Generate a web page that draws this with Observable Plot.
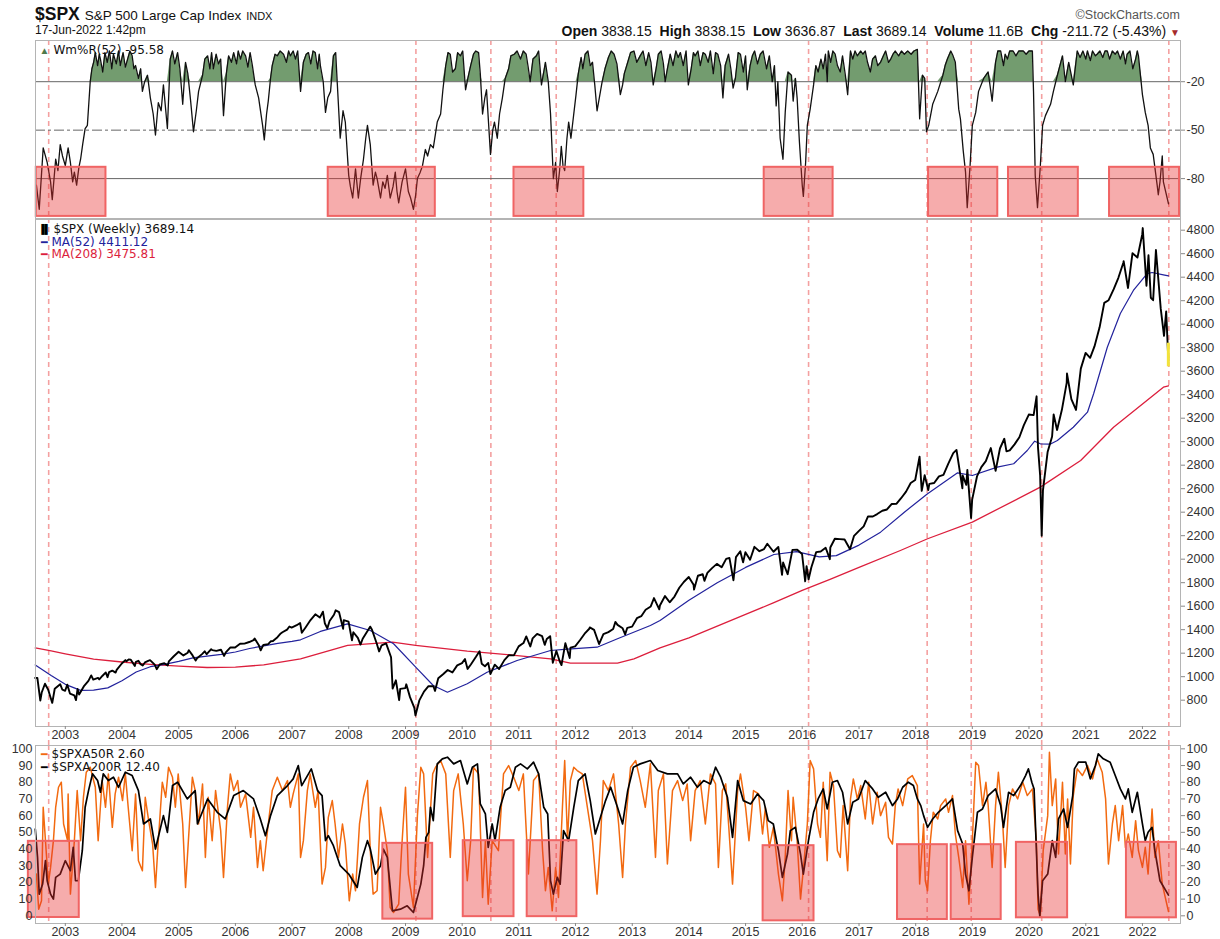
<!DOCTYPE html>
<html><head><meta charset="utf-8">
<script src="https://cdn.jsdelivr.net/npm/d3@7"></script>
<script src="https://cdn.jsdelivr.net/npm/@observablehq/plot@0.6"></script>
<style>
html,body{margin:0;padding:0;background:#fff}
body{width:1220px;height:939px;position:relative;overflow:hidden;font-family:"Liberation Sans",Arial,sans-serif;color:#111}
.abs{position:absolute;white-space:nowrap}
.panel{position:absolute;left:0}
.panel svg{overflow:visible}
</style></head><body>
<div class="abs" style="left:35px;top:4px;font-weight:bold;font-size:17.5px">$SPX <span style="font-weight:normal;font-size:13.5px">S&amp;P 500 Large Cap Index</span> <span style="font-weight:normal;font-size:11px">INDX</span></div>
<div class="abs" style="left:35px;top:23px;font-size:12px">17-Jun-2022 1:42pm</div>
<div class="abs" style="right:40px;top:8px;font-size:12.5px;color:#555">&#169;StockCharts.com</div>
<div class="abs" style="right:40px;top:23px;font-size:14px"><b>Open</b> 3838.15 &nbsp;<b>High</b> 3838.15 &nbsp;<b>Low</b> 3636.87 &nbsp;<b>Last</b> 3689.14 &nbsp;<b>Volume</b> 11.6B &nbsp;<b>Chg</b> -211.72 (-5.43%) <span style="color:#a52a2a;font-size:10px">&#9660;</span></div>
<div id="p1" class="panel" style="top:40px"></div>
<div id="p2" class="panel" style="top:218px"></div>
<div id="p3" class="panel" style="top:745px"></div>
<script>
// ---------- data ----------
const xStartYear = 2002.474, xEndYear = 2022.672;
const yearTicks = [2003,2004,2005,2006,2007,2008,2009,2010,2011,2012,2013,2014,2015,2016,2017,2018,2019,2020,2021,2022];
const markerDates = ["2002-09-16","2009-03-09","2010-07-05","2011-08-30","2016-02-11","2018-03-16","2018-12-25","2020-03-23","2022-06-20"];

// Williams %R (52), [decimal year, value]
const wmr1 = [[2002.49,-84],[2002.54,-99],[2002.61,-61],[2002.68,-70],[2002.74,-82],[2002.77,-93],[2002.83,-68],[2002.87,-75],[2002.91,-59],[2002.95,-66],[2003.00,-72],[2003.05,-61],[2003.09,-70],[2003.13,-82],[2003.16,-76],[2003.20,-84],[2003.24,-73],[2003.27,-68],[2003.31,-58],[2003.35,-49],[2003.39,-47],[2003.44,-20],[2003.47,-12],[2003.50,-8],[2003.53,-2],[2003.57,-10],[2003.60,-3],[2003.62,-6],[2003.66,-14],[2003.70,-2],[2003.74,-8],[2003.78,-1],[2003.82,-12],[2003.85,-3],[2003.90,-9],[2003.94,-1],[2003.97,-10],[2004.02,-2],[2004.06,-11],[2004.10,-6],[2004.14,-1],[2004.18,-4],[2004.21,-12],[2004.24,-10],[2004.29,-18],[2004.33,-12],[2004.36,-26],[2004.40,-20],[2004.45,-16],[2004.50,-30],[2004.55,-40],[2004.59,-53],[2004.64,-33],[2004.69,-38],[2004.73,-22],[2004.80,-49],[2004.85,-6],[2004.89,-1],[2004.93,-9],[2004.98,-2],[2005.02,-12],[2005.07,-34],[2005.12,-8],[2005.16,-15],[2005.21,-32],[2005.26,-51],[2005.31,-38],[2005.35,-26],[2005.42,-16],[2005.46,-6],[2005.51,-4],[2005.55,-12],[2005.58,-2],[2005.61,-12],[2005.66,-3],[2005.70,-9],[2005.74,-6],[2005.79,-41],[2005.84,-15],[2005.88,-4],[2005.93,-8],[2005.97,-2],[2006.02,-9],[2006.05,-1],[2006.09,-6],[2006.13,-1],[2006.18,-4],[2006.22,-11],[2006.26,-2],[2006.30,-10],[2006.35,-22],[2006.41,-30],[2006.48,-47],[2006.51,-56],[2006.55,-40],[2006.58,-32],[2006.62,-18],[2006.65,-10],[2006.70,-3],[2006.74,-4],[2006.79,-1],[2006.85,-3],[2006.90,-8],[2006.94,-1],[2006.97,-4],[2007.02,-1],[2007.06,-6],[2007.10,-1],[2007.15,-26],[2007.20,-8],[2007.25,-3],[2007.29,-2],[2007.33,-9],[2007.37,-1],[2007.41,-2],[2007.45,-12],[2007.48,-3],[2007.50,-10],[2007.55,-20],[2007.59,-39],[2007.63,-30],[2007.68,-26],[2007.73,-4],[2007.77,-2],[2007.80,-22],[2007.85,-55],[2007.90,-38],[2007.94,-45],[2008.00,-78],[2008.03,-85],[2008.07,-92],[2008.12,-74],[2008.17,-92],[2008.21,-80],[2008.26,-68],[2008.30,-55],[2008.33,-47],[2008.38,-59],[2008.43,-84],[2008.47,-76],[2008.50,-80],[2008.56,-92],[2008.60,-82],[2008.64,-86],[2008.68,-78],[2008.73,-92],[2008.78,-85],[2008.82,-76],[2008.85,-88],[2008.88,-95],[2008.94,-82]];
const wmr2 = [[2009.00,-74],[2009.05,-88],[2009.09,-92],[2009.14,-99],[2009.18,-90],[2009.21,-80],[2009.26,-76],[2009.30,-72],[2009.35,-62],[2009.39,-66],[2009.44,-59],[2009.49,-61],[2009.53,-52],[2009.56,-45],[2009.62,-40],[2009.66,-25],[2009.71,-10],[2009.75,-2],[2009.79,-3],[2009.83,-14],[2009.88,-12],[2009.92,-2],[2009.97,-4],[2010.01,-1],[2010.06,-25],[2010.10,-18],[2010.15,-10],[2010.20,-3],[2010.24,-1],[2010.29,-2],[2010.32,-15],[2010.36,-40],[2010.40,-30],[2010.43,-25],[2010.47,-48],[2010.50,-65],[2010.54,-50],[2010.57,-45],[2010.62,-55],[2010.66,-40],[2010.71,-30],[2010.76,-18],[2010.82,-12],[2010.86,-4],[2010.92,-3],[2010.97,-1],[2011.03,-6],[2011.08,-1],[2011.13,-3],[2011.17,-12],[2011.20,-20],[2011.25,-6],[2011.31,-4],[2011.35,-1],[2011.40,-22],[2011.44,-14],[2011.47,-8],[2011.52,-20],[2011.56,-40],[2011.61,-80],[2011.65,-70],[2011.68,-88],[2011.72,-75],[2011.75,-60],[2011.78,-72],[2011.81,-75],[2011.85,-55],[2011.88,-45],[2011.92,-55],[2011.97,-40],[2012.01,-28],[2012.05,-15],[2012.10,-5],[2012.13,-12],[2012.17,-3],[2012.22,-1],[2012.26,-10],[2012.30,-8],[2012.34,-22],[2012.38,-38],[2012.42,-30],[2012.47,-20],[2012.52,-12],[2012.58,-5],[2012.63,-1],[2012.68,-3],[2012.73,-9],[2012.79,-28],[2012.83,-22],[2012.86,-15],[2012.92,-8],[2012.97,-2],[2013.03,-1],[2013.08,-8],[2013.14,-4],[2013.19,-1],[2013.24,-10],[2013.29,-2],[2013.33,-8],[2013.37,-22],[2013.42,-12],[2013.46,-3],[2013.51,-1],[2013.55,-9],[2013.58,-20],[2013.62,-12],[2013.67,-3],[2013.72,-10],[2013.77,-1],[2013.81,-5],[2013.85,-2],[2013.90,-10],[2013.95,-1],[2013.99,-22],[2014.04,-12],[2014.08,-2],[2014.11,-4],[2014.16,-1],[2014.20,-10],[2014.25,-2],[2014.29,-3],[2014.34,-8],[2014.38,-1],[2014.43,-15],[2014.47,-2],[2014.51,-3],[2014.56,-10],[2014.60,-30],[2014.64,-10],[2014.70,-3],[2014.74,-12],[2014.78,-24],[2014.82,-18],[2014.87,-2],[2014.91,-3],[2014.96,-14],[2015.00,-4],[2015.03,-25],[2015.08,-10],[2015.12,-4],[2015.16,-1],[2015.21,-9],[2015.26,-3],[2015.31,-1],[2015.37,-12],[2015.42,-4],[2015.47,-20],[2015.51,-10],[2015.54,-35],[2015.57,-20],[2015.61,-55],[2015.66,-68],[2015.70,-39],[2015.75,-14],[2015.81,-16],[2015.84,-32],[2015.88,-18],[2015.91,-30],[2015.95,-57]];
const wmr3 = [[2016.00,-84],[2016.02,-91],[2016.06,-70],[2016.09,-47],[2016.14,-37],[2016.20,-22],[2016.24,-10],[2016.28,-14],[2016.33,-6],[2016.37,-12],[2016.41,-3],[2016.44,-20],[2016.46,-1],[2016.50,-8],[2016.54,-1],[2016.58,-3],[2016.62,-10],[2016.67,-14],[2016.71,-4],[2016.76,-16],[2016.80,-28],[2016.85,-1],[2016.89,-6],[2016.93,-1],[2016.97,-4],[2017.03,-1],[2017.07,-3],[2017.11,-1],[2017.15,-8],[2017.20,-14],[2017.24,-6],[2017.29,-4],[2017.33,-10],[2017.38,-8],[2017.43,-4],[2017.47,-1],[2017.52,-8],[2017.56,-6],[2017.60,-3],[2017.64,-1],[2017.70,-4],[2017.75,-1],[2017.80,-3],[2017.86,-1],[2017.92,-3],[2017.97,-1],[2018.03,0],[2018.07,-43],[2018.12,-16],[2018.16,-18],[2018.19,-51],[2018.23,-47],[2018.30,-34],[2018.39,-26],[2018.48,-16],[2018.52,-10],[2018.56,-6],[2018.62,-1],[2018.66,-4],[2018.70,-8],[2018.76,-37],[2018.79,-43],[2018.84,-63],[2018.88,-76],[2018.91,-98],[2018.96,-72],[2019.00,-47],[2019.06,-39],[2019.11,-26],[2019.20,-18],[2019.28,-14],[2019.35,-32],[2019.41,-8],[2019.45,-1],[2019.50,-1],[2019.55,-10],[2019.58,-3],[2019.62,-6],[2019.66,-1],[2019.72,-1],[2019.77,-4],[2019.82,-1],[2019.90,-1],[2019.95,-3],[2020.00,-1],[2020.06,-1],[2020.08,-26],[2020.11,-78],[2020.15,-98],[2020.20,-72],[2020.24,-47],[2020.29,-41],[2020.38,-34],[2020.43,-26],[2020.50,-16],[2020.59,-4],[2020.64,-20],[2020.70,-8],[2020.78,-22],[2020.85,-1],[2020.90,-5],[2020.95,-1],[2021.00,-6],[2021.03,-1],[2021.08,-7],[2021.12,-1],[2021.17,-4],[2021.20,-3],[2021.25,-1],[2021.30,-5],[2021.34,-1],[2021.38,-1],[2021.42,-6],[2021.47,-1],[2021.52,-3],[2021.56,-1],[2021.61,-6],[2021.66,-1],[2021.70,-9],[2021.73,-3],[2021.78,-1],[2021.83,-12],[2021.88,-6],[2021.91,-1],[2021.93,-4],[2022.00,-28],[2022.05,-39],[2022.10,-47],[2022.14,-61],[2022.19,-65],[2022.26,-84],[2022.28,-90],[2022.31,-82],[2022.35,-66],[2022.37,-82],[2022.46,-95.58]];

// $SPX weekly closes / swing points [date, value]
const spx2002_2006 = [["2002-06-21",990],["2002-07-05",989],["2002-07-19",847],["2002-07-24",797],["2002-08-02",865],["2002-08-23",940],["2002-09-13",889],["2002-09-27",827],["2002-10-09",777],["2002-10-25",897],["2002-11-29",936],["2002-12-13",889],["2002-12-31",880],["2003-01-14",932],["2003-01-31",856],["2003-02-28",841],["2003-03-11",801],["2003-03-21",895],["2003-03-31",848],["2003-04-30",917],["2003-05-30",964],["2003-06-17",1011],["2003-06-30",975],["2003-07-31",990],["2003-08-08",977],["2003-08-29",1008],["2003-09-19",1036],["2003-09-30",996],["2003-10-10",1038],["2003-10-31",1051],["2003-11-21",1035],["2003-11-28",1058],["2003-12-31",1112],["2004-01-23",1141],["2004-01-30",1131],["2004-02-13",1146],["2004-02-27",1145],["2004-03-24",1091],["2004-03-31",1126],["2004-04-16",1135],["2004-04-30",1107],["2004-05-14",1095],["2004-05-28",1121],["2004-06-18",1135],["2004-06-30",1141],["2004-07-30",1102],["2004-08-12",1064],["2004-08-31",1104],["2004-09-30",1115],["2004-10-22",1095],["2004-10-29",1130],["2004-11-30",1174],["2004-12-31",1212],["2005-01-31",1181],["2005-02-28",1204],["2005-03-07",1225],["2005-03-31",1181],["2005-04-20",1138],["2005-04-29",1157],["2005-05-31",1192],["2005-06-17",1216],["2005-06-30",1191],["2005-07-29",1234],["2005-08-05",1226],["2005-08-31",1220],["2005-09-30",1229],["2005-10-20",1177],["2005-10-31",1207],["2005-11-30",1249],["2005-12-30",1248],["2006-01-31",1280],["2006-02-28",1281],["2006-03-31",1295],["2006-04-28",1311],["2006-05-05",1325],["2006-05-31",1270],["2006-06-13",1224],["2006-06-30",1270],["2006-07-31",1277],["2006-08-18",1302],["2006-08-31",1304],["2006-09-29",1336],["2006-10-20",1368],["2006-10-31",1378],["2006-11-30",1401],["2006-12-15",1427],["2006-12-29",1418]];
const spx2007_2011 = [["2007-01-31",1438],["2007-02-22",1457],["2007-03-05",1374],["2007-03-30",1421],["2007-04-30",1482],["2007-05-31",1531],["2007-06-29",1503],["2007-07-19",1553],["2007-07-31",1455],["2007-08-16",1411],["2007-08-31",1474],["2007-09-28",1527],["2007-10-09",1565],["2007-10-31",1549],["2007-11-26",1407],["2007-11-30",1481],["2007-12-31",1468],["2008-01-22",1310],["2008-01-31",1378],["2008-02-29",1331],["2008-03-17",1273],["2008-03-31",1323],["2008-04-30",1386],["2008-05-19",1426],["2008-05-30",1400],["2008-06-30",1280],["2008-07-15",1215],["2008-07-31",1267],["2008-08-29",1283],["2008-09-30",1165],["2008-10-10",899],["2008-10-31",969],["2008-11-21",800],["2008-11-28",896],["2008-12-31",903],["2009-01-06",935],["2009-01-30",826],["2009-02-27",735],["2009-03-06",670],["2009-03-31",798],["2009-04-30",873],["2009-05-29",919],["2009-06-30",919],["2009-07-10",879],["2009-07-31",987],["2009-08-31",1021],["2009-09-30",1057],["2009-10-30",1036],["2009-11-30",1096],["2009-12-31",1115],["2010-01-19",1150],["2010-02-05",1066],["2010-02-26",1104],["2010-03-31",1169],["2010-04-23",1217],["2010-05-07",1111],["2010-05-28",1089],["2010-06-18",1117],["2010-07-02",1022],["2010-07-30",1102],["2010-08-27",1065],["2010-09-30",1141],["2010-10-29",1183],["2010-11-30",1181],["2010-12-31",1258],["2011-01-31",1286],["2011-02-18",1343],["2011-03-16",1257],["2011-03-31",1326],["2011-04-29",1364],["2011-05-31",1345],["2011-06-17",1271],["2011-06-30",1321],["2011-07-22",1345],["2011-08-08",1119],["2011-08-31",1219],["2011-09-22",1129],["2011-10-03",1099],["2011-10-28",1285],["2011-11-25",1159],["2011-11-30",1247],["2011-12-30",1258]];
const spx2012_2016 = [["2012-01-31",1312],["2012-02-29",1366],["2012-03-30",1408],["2012-04-02",1419],["2012-04-30",1398],["2012-06-01",1278],["2012-06-29",1362],["2012-07-31",1379],["2012-08-31",1406],["2012-09-14",1466],["2012-09-28",1441],["2012-10-31",1412],["2012-11-16",1360],["2012-11-30",1416],["2012-12-31",1426],["2013-01-31",1498],["2013-02-28",1515],["2013-03-28",1569],["2013-04-30",1598],["2013-05-21",1669],["2013-06-24",1573],["2013-06-28",1606],["2013-07-31",1686],["2013-08-30",1633],["2013-09-30",1682],["2013-10-31",1757],["2013-11-29",1806],["2013-12-31",1848],["2014-01-31",1783],["2014-02-03",1741],["2014-02-28",1859],["2014-03-31",1872],["2014-04-11",1816],["2014-04-30",1884],["2014-05-30",1924],["2014-06-30",1960],["2014-07-31",1931],["2014-08-29",2003],["2014-09-19",2011],["2014-10-15",1821],["2014-10-31",2018],["2014-11-28",2068],["2014-12-16",1973],["2014-12-31",2059],["2015-01-30",1995],["2015-02-27",2105],["2015-03-31",2068],["2015-04-30",2086],["2015-05-21",2131],["2015-06-30",2063],["2015-07-31",2104],["2015-08-24",1867],["2015-08-31",1972],["2015-09-29",1872],["2015-10-30",2079],["2015-11-30",2080],["2015-12-31",2044],["2016-01-20",1812],["2016-01-29",1940],["2016-02-11",1829],["2016-02-29",1932],["2016-03-31",2060],["2016-04-29",2065],["2016-05-31",2097],["2016-06-27",2000],["2016-06-30",2099],["2016-07-29",2174],["2016-08-31",2171],["2016-09-30",2168],["2016-11-04",2085],["2016-11-30",2199],["2016-12-30",2239]];
const spx2017_2022 = [["2017-01-31",2279],["2017-02-28",2364],["2017-03-31",2363],["2017-04-28",2384],["2017-05-31",2412],["2017-06-30",2423],["2017-07-31",2470],["2017-08-31",2472],["2017-09-29",2519],["2017-10-31",2575],["2017-11-30",2648],["2017-12-29",2674],["2018-01-26",2873],["2018-02-09",2581],["2018-02-28",2714],["2018-03-23",2588],["2018-03-30",2641],["2018-04-30",2648],["2018-05-31",2705],["2018-06-29",2718],["2018-07-31",2816],["2018-08-31",2902],["2018-09-21",2930],["2018-10-29",2603],["2018-10-31",2712],["2018-11-23",2633],["2018-11-30",2760],["2018-12-24",2351],["2018-12-31",2507],["2019-01-31",2704],["2019-02-28",2784],["2019-03-29",2834],["2019-04-30",2946],["2019-05-31",2752],["2019-06-28",2942],["2019-07-26",3025],["2019-08-09",2918],["2019-08-30",2926],["2019-09-30",2977],["2019-10-31",3038],["2019-11-29",3141],["2019-12-31",3231],["2020-01-31",3226],["2020-02-19",3386],["2020-02-28",2954],["2020-03-13",2711],["2020-03-23",2200],["2020-03-31",2585],["2020-04-30",2912],["2020-05-29",3044],["2020-06-08",3232],["2020-06-30",3100],["2020-07-31",3271],["2020-08-31",3500],["2020-09-02",3580],["2020-09-30",3363],["2020-10-30",3270],["2020-11-30",3622],["2020-12-31",3756],["2021-01-29",3714],["2021-02-26",3811],["2021-03-31",3973],["2021-04-30",4181],["2021-05-28",4204],["2021-06-30",4298],["2021-07-30",4395],["2021-08-31",4523],["2021-09-02",4537],["2021-09-30",4308],["2021-10-29",4605],["2021-11-30",4567],["2021-12-31",4766],["2022-01-03",4818],["2022-01-27",4327],["2022-02-09",4587],["2022-02-24",4225],["2022-03-11",4204],["2022-03-29",4631],["2022-04-29",4132],["2022-05-20",3901],["2022-06-03",4109],["2022-06-10",3901],["2022-06-17",3689]];
const lastBar = {date:"2022-06-17", low:3636.87, high:3838.15};

// moving averages [decimal year, value]
const ma52 = [[2002.47,1100],[2002.75,1010],[2003.0,935],[2003.27,883],[2003.5,885],[2003.75,905],[2004.0,965],[2004.25,1040],[2004.5,1085],[2004.75,1105],[2005.0,1130],[2005.25,1160],[2005.5,1175],[2005.75,1190],[2006.0,1210],[2006.25,1240],[2006.5,1262],[2006.75,1283],[2007.0,1300],[2007.15,1314],[2007.5,1385],[2007.98,1450],[2008.38,1393],[2008.79,1280],[2009.18,1081],[2009.49,925],[2009.74,868],[2010.09,940],[2010.44,1038],[2010.97,1138],[2011.56,1223],[2011.86,1235],[2012.38,1251],[2012.74,1323],[2013.32,1436],[2013.49,1478],[2014.0,1650],[2014.5,1800],[2015.0,1930],[2015.5,2040],[2015.9,2065],[2016.3,2020],[2016.6,2030],[2017.0,2120],[2017.38,2230],[2017.8,2400],[2018.21,2557],[2018.74,2735],[2019.0,2712],[2019.44,2783],[2019.73,2812],[2019.97,2925],[2020.10,3004],[2020.20,2982],[2020.38,2980],[2020.50,3010],[2020.78,3123],[2021.03,3251],[2021.14,3410],[2021.38,3804],[2021.61,4091],[2021.84,4287],[2022.08,4429],[2022.17,4440],[2022.37,4420],[2022.46,4411.12]];
const ma208 = [[2002.47,1245],[2002.75,1220],[2003.0,1195],[2003.5,1150],[2004.0,1125],[2004.5,1105],[2005.0,1090],[2005.5,1078],[2006.0,1082],[2006.5,1100],[2007.15,1152],[2007.98,1266],[2008.77,1294],[2009.18,1266],[2010.09,1217],[2010.97,1180],[2011.56,1152],[2011.91,1115],[2012.74,1115],[2013.03,1152],[2013.49,1246],[2014.0,1330],[2014.5,1430],[2015.0,1530],[2015.5,1630],[2016.0,1734],[2016.5,1830],[2017.0,1930],[2017.73,2074],[2018.21,2174],[2019.0,2315],[2020.20,2613],[2020.91,2840],[2021.49,3123],[2022.37,3464],[2022.46,3475.81]];

// breadth: $SPXA200R (black) and $SPXA50R (orange) [decimal year, value]
const a200r_1 = [[2002.47,52],[2002.51,35],[2002.54,13],[2002.60,19],[2002.65,33],[2002.68,21],[2002.74,13],[2002.79,10],[2002.83,23],[2002.91,25],[2003.00,33],[2003.09,27],[2003.14,41],[2003.18,21],[2003.23,21],[2003.30,39],[2003.35,65],[2003.41,75],[2003.48,85],[2003.57,81],[2003.62,74],[2003.67,85],[2003.76,81],[2003.85,83],[2003.94,77],[2004.06,86],[2004.18,84],[2004.29,75],[2004.38,55],[2004.50,58],[2004.59,40],[2004.73,60],[2004.80,50],[2004.89,78],[2004.98,80],[2005.15,70],[2005.29,75],[2005.33,55],[2005.51,70],[2005.68,62],[2005.82,58],[2005.97,72],[2006.14,75],[2006.32,70],[2006.44,58],[2006.53,48],[2006.62,60],[2006.74,72],[2006.92,78],[2007.02,82],[2007.11,90],[2007.17,78],[2007.29,85],[2007.34,88],[2007.45,75],[2007.53,72],[2007.59,45],[2007.64,48],[2007.73,42],[2007.85,30],[2008.00,25],[2008.15,17],[2008.24,35],[2008.33,45],[2008.38,40],[2008.47,25],[2008.56,30],[2008.61,40],[2008.68,35],[2008.77,3],[2008.91,4],[2009.03,6],[2009.14,2],[2009.27,19],[2009.32,30],[2009.36,47],[2009.41,50],[2009.44,65],[2009.49,57],[2009.56,91],[2009.65,94],[2009.74,95],[2009.85,91],[2009.97,93]];
const a200r_2 = [[2010.09,79],[2010.18,89],[2010.27,91],[2010.32,67],[2010.41,61],[2010.46,41],[2010.53,55],[2010.58,45],[2010.67,65],[2010.76,75],[2010.85,77],[2010.94,89],[2011.03,91],[2011.15,88],[2011.26,92],[2011.35,85],[2011.44,65],[2011.51,61],[2011.56,21],[2011.61,13],[2011.68,23],[2011.73,19],[2011.79,51],[2011.88,45],[2011.97,65],[2012.05,81],[2012.17,85],[2012.26,69],[2012.35,49],[2012.44,59],[2012.53,69],[2012.62,77],[2012.74,65],[2012.83,55],[2012.92,75],[2013.02,89],[2013.14,91],[2013.32,93],[2013.45,87],[2013.62,85],[2013.80,85],[2013.90,79],[2014.03,83],[2014.15,77],[2014.26,81],[2014.38,79],[2014.47,89],[2014.56,83],[2014.68,71],[2014.77,47],[2014.86,81],[2014.96,69],[2015.09,67],[2015.21,73],[2015.32,69],[2015.40,57],[2015.49,55],[2015.58,39],[2015.65,23],[2015.74,37],[2015.79,51],[2015.88,53],[2015.97,37]];
const a200r_3 = [[2016.02,25],[2016.11,45],[2016.20,62],[2016.28,70],[2016.37,76],[2016.44,64],[2016.53,80],[2016.62,81],[2016.71,74],[2016.80,55],[2016.89,68],[2016.99,70],[2017.11,81],[2017.24,76],[2017.34,71],[2017.47,74],[2017.59,66],[2017.68,70],[2017.77,77],[2017.87,80],[2017.96,78],[2018.03,70],[2018.09,66],[2018.14,60],[2018.21,53],[2018.30,58],[2018.40,62],[2018.53,66],[2018.65,70],[2018.74,51],[2018.83,43],[2018.88,25],[2018.94,15],[2019.00,35],[2019.09,62],[2019.18,64],[2019.28,72],[2019.41,76],[2019.50,66],[2019.55,53],[2019.64,74],[2019.73,72],[2019.85,78],[2019.94,84],[2019.99,88],[2020.05,80],[2020.09,76],[2020.16,13],[2020.19,0],[2020.24,21],[2020.33,25],[2020.41,45],[2020.47,35],[2020.52,58],[2020.61,64],[2020.68,53],[2020.77,72],[2020.80,88],[2020.87,92],[2021.00,92],[2021.08,82],[2021.17,90],[2021.22,97],[2021.31,94],[2021.43,92],[2021.52,84],[2021.61,76],[2021.70,70],[2021.75,76],[2021.82,62],[2021.91,74],[2022.00,55],[2022.05,45],[2022.10,50],[2022.17,53],[2022.22,39],[2022.31,21],[2022.46,12.4]];
const a50r_1 = [[2002.49,25],[2002.53,4],[2002.58,9],[2002.61,65],[2002.67,35],[2002.70,19],[2002.74,29],[2002.79,45],[2002.83,65],[2002.88,77],[2002.93,80],[2002.97,55],[2003.04,45],[2003.05,73],[2003.09,13],[2003.16,45],[2003.21,75],[2003.27,45],[2003.32,71],[2003.37,86],[2003.44,89],[2003.53,77],[2003.58,45],[2003.65,81],[2003.71,65],[2003.76,85],[2003.83,53],[2003.88,73],[2003.94,83],[2004.01,69],[2004.06,85],[2004.11,65],[2004.18,39],[2004.24,73],[2004.29,33],[2004.36,27],[2004.41,71],[2004.47,57],[2004.54,43],[2004.59,17],[2004.64,45],[2004.71,80],[2004.77,71],[2004.82,89],[2004.89,83],[2004.94,65],[2004.99,85],[2005.07,55],[2005.12,17],[2005.17,45],[2005.24,83],[2005.29,75],[2005.35,55],[2005.42,79],[2005.47,35],[2005.52,71],[2005.59,45],[2005.65,75],[2005.74,51],[2005.79,23],[2005.86,65],[2005.91,85],[2005.97,75],[2006.04,81],[2006.09,65],[2006.18,73],[2006.27,47],[2006.32,65],[2006.39,29],[2006.44,45],[2006.49,27],[2006.56,49],[2006.65,75],[2006.74,83],[2006.83,75],[2006.92,81],[2006.97,65],[2007.02,73],[2007.11,85],[2007.15,35],[2007.20,45],[2007.27,75],[2007.32,85],[2007.41,65],[2007.46,75],[2007.53,19],[2007.59,29],[2007.64,59],[2007.71,69],[2007.76,55],[2007.82,35],[2007.89,55],[2007.94,43],[2008.01,9],[2008.07,25],[2008.12,15],[2008.19,55],[2008.26,71],[2008.33,81],[2008.38,39],[2008.43,13],[2008.50,15],[2008.56,65],[2008.61,55],[2008.68,39],[2008.73,5],[2008.79,2],[2008.88,7],[2008.93,39],[2009.00,77],[2009.05,25],[2009.14,5],[2009.21,60],[2009.27,89],[2009.32,85],[2009.39,35],[2009.48,85],[2009.53,89],[2009.62,93],[2009.71,85],[2009.79,35],[2009.85,75],[2009.93,85]];
const a50r_2 = [[2010.02,55],[2010.09,21],[2010.15,45],[2010.20,89],[2010.29,85],[2010.36,11],[2010.41,45],[2010.46,7],[2010.53,45],[2010.64,39],[2010.73,85],[2010.82,90],[2010.91,83],[2011.00,75],[2011.08,85],[2011.17,25],[2011.26,81],[2011.35,85],[2011.42,39],[2011.47,15],[2011.52,29],[2011.59,3],[2011.65,29],[2011.70,11],[2011.77,65],[2011.81,93],[2011.86,45],[2011.91,81],[2011.97,89],[2012.03,87],[2012.12,85],[2012.21,65],[2012.30,45],[2012.38,13],[2012.44,45],[2012.49,81],[2012.58,75],[2012.67,85],[2012.76,55],[2012.83,23],[2012.88,55],[2012.97,89],[2013.06,93],[2013.14,81],[2013.23,65],[2013.32,91],[2013.41,35],[2013.46,75],[2013.55,85],[2013.62,31],[2013.71,75],[2013.80,81],[2013.89,69],[2013.97,79],[2014.03,45],[2014.11,75],[2014.20,81],[2014.29,55],[2014.38,85],[2014.47,79],[2014.52,29],[2014.59,75],[2014.65,79],[2014.70,55],[2014.77,19],[2014.86,75],[2014.91,85],[2015.00,65],[2015.06,45],[2015.14,75],[2015.23,73],[2015.30,49],[2015.35,65],[2015.42,41],[2015.49,53],[2015.58,25],[2015.65,9],[2015.70,35],[2015.75,75],[2015.81,45],[2015.84,71],[2015.91,45],[2015.97,10]];
const a50r_3 = [[2016.02,28],[2016.09,55],[2016.14,93],[2016.20,88],[2016.27,55],[2016.32,47],[2016.37,80],[2016.44,33],[2016.49,86],[2016.55,78],[2016.62,39],[2016.67,35],[2016.72,66],[2016.80,27],[2016.85,70],[2016.90,82],[2016.97,70],[2017.03,78],[2017.11,58],[2017.17,80],[2017.24,55],[2017.32,74],[2017.38,60],[2017.47,68],[2017.52,47],[2017.59,43],[2017.64,66],[2017.69,76],[2017.77,66],[2017.86,82],[2017.94,84],[2018.03,78],[2018.07,19],[2018.14,55],[2018.17,21],[2018.21,15],[2018.26,45],[2018.31,62],[2018.39,58],[2018.44,66],[2018.53,70],[2018.58,62],[2018.65,72],[2018.70,49],[2018.76,35],[2018.83,17],[2018.88,45],[2018.94,7],[2019.00,45],[2019.06,92],[2019.11,90],[2019.18,66],[2019.24,80],[2019.28,66],[2019.35,29],[2019.41,66],[2019.46,86],[2019.53,59],[2019.58,29],[2019.64,66],[2019.71,76],[2019.80,70],[2019.89,80],[2019.97,72],[2020.06,76],[2020.13,45],[2020.16,4],[2020.20,0],[2020.25,39],[2020.33,60],[2020.36,98],[2020.41,66],[2020.47,82],[2020.52,37],[2020.59,80],[2020.64,37],[2020.68,70],[2020.73,31],[2020.78,72],[2020.85,88],[2020.94,84],[2021.03,90],[2021.12,82],[2021.20,94],[2021.29,86],[2021.35,70],[2021.40,31],[2021.47,55],[2021.52,66],[2021.58,45],[2021.65,66],[2021.70,41],[2021.75,49],[2021.82,35],[2021.88,57],[2021.93,39],[2022.00,29],[2022.05,41],[2022.10,25],[2022.17,64],[2022.22,35],[2022.28,45],[2022.35,19],[2022.46,2.6]];

// highlighted zones [start, end] / [start, end, top, bottom]
const topZones = [["2002-06-28","2003-09-20"],["2007-08-22","2009-07-12"],["2010-12-01","2012-02-24"],["2015-05-01","2016-07-18"],["2018-03-25","2019-06-14"],["2019-08-22","2020-11-14"],["2021-06-03","2022-08-28"]];
const topZoneRange = [-73, -103.4];
const bottomZones = [["2002-05-08","2003-04-01",44.6,-1],["2008-08-08","2009-06-25",43.4,-2],["2010-01-08","2010-12-01",45,-0.5],["2011-02-24","2012-01-10",45,-0.5],["2015-04-24","2016-03-17",42,-3],["2017-09-06","2018-07-24",42.6,-2.2],["2018-08-18","2019-07-06",42.6,-2.2],["2019-10-12","2020-09-06",44,-1.2],["2021-09-20","2022-08-08",44,-1.2]];

const priceTicks = [800,1000,1200,1400,1600,1800,2000,2200,2400,2600,2800,3000,3200,3400,3600,3800,4000,4200,4400,4600,4800];
const wmrTicks = [-20,-50,-80];
const breadthTicks = [0,10,20,30,40,50,60,70,80,90,100];

// ---------- helpers ----------
const fy = y => { const yr = Math.floor(y); const s = Date.UTC(yr,0,1), e = Date.UTC(yr+1,0,1); return new Date(s + (y-yr)*(e-s)); };
const fromYears = arr => arr.map(([y,v]) => ({date: fy(y), v}));
const fromDates = arr => arr.map(([d,v]) => ({date: new Date(d), v}));
const xDomain = [fy(xStartYear), fy(xEndYear)];
const markers = markerDates.map(d => new Date(d));
const yearDates = yearTicks.map(y => new Date(Date.UTC(y,0,1)));
const wmr = fromYears([...wmr1, ...wmr2, ...wmr3]);
const spx = fromDates([...spx2002_2006, ...spx2007_2011, ...spx2012_2016, ...spx2017_2022]);
const m52 = fromYears(ma52), m208 = fromYears(ma208);
const a200 = fromYears([...a200r_1, ...a200r_2, ...a200r_3]);
const a50 = fromYears([...a50r_1, ...a50r_2, ...a50r_3]);

const FRAME = "#b4b4b4", MARK = "#f4a0a0", ZFILL = "#e83030", ZSTROKE = "#f06464";
const legendFont = "DejaVu Sans, Verdana, sans-serif";
const baseStyle = {fontFamily:"Liberation Sans, Arial, sans-serif", fontSize:"12.5px", color:"#333", background:"transparent", overflow:"visible"};
const base = {width:1220, marginLeft:35, marginRight:40, style: baseStyle};
const markerRule = (opts) => Plot.ruleX(markers, {stroke: MARK, strokeWidth: 1.6, strokeDasharray: "5,4", ...opts});
const legend = (txt, dy, fill, dx=18) => Plot.text([txt], {text: d => d, frameAnchor:"top-left", dx, dy, textAnchor:"start", lineAnchor:"middle", fill, fontFamily: legendFont, fontSize: 12});
const swatch = (glyph, dy, fill, size=11) => Plot.text([glyph], {text: d => d, frameAnchor:"top-left", dx: 9, dy, fill, fontSize: size, textAnchor:"middle", lineAnchor:"middle"});

// ---------- top panel: Williams %R ----------
document.getElementById("p1").append(Plot.plot({
  ...base, height: 178, marginTop: 0, marginBottom: 0,
  x: {type:"utc", domain: xDomain, axis: null},
  y: {domain: [-104.7, 5.5], axis: null},
  marks: [
    markerRule({}),
    Plot.areaY(wmr, {x:"date", y1: d => -20, y2: d => Math.max(-20, d.v), fill:"#739c6f"}),
    Plot.ruleY([-20, -80], {stroke:"#666", strokeWidth: 1}),
    Plot.ruleY([-50], {stroke:"#666", strokeWidth: 1, strokeDasharray:"10,3,3,3"}),
    Plot.line(wmr, {x:"date", y:"v", stroke:"#111", strokeWidth: 1.3}),
    Plot.rect(topZones, {x1: d => new Date(d[0]), x2: d => new Date(d[1]), y1: d => topZoneRange[0], y2: d => topZoneRange[1], fill: ZFILL, fillOpacity: 0.4, stroke: ZSTROKE, strokeWidth: 2}),
    Plot.frame({stroke: FRAME}),
    Plot.axisY({anchor:"right", label: null, ticks: wmrTicks, tickSize: 4, tickPadding: 2, tickFormat: d => String(d), stroke:"#888"}),
    swatch("\u25B2", 10, "#4f7a4c", 10),
    legend("Wm%R(52) -95.58", 10, "#111")
  ]
}));

// ---------- middle panel: $SPX weekly ----------
document.getElementById("p2").append(Plot.plot({
  ...base, height: 527, marginTop: 1, marginBottom: 19,
  x: {type:"utc", domain: xDomain, axis: null},
  y: {domain: [576, 4891], axis: null},
  marks: [
    markerRule({y1: () => 414, y2: () => 4891}),
    Plot.line(m208, {x:"date", y:"v", stroke:"#dc1e3c", strokeWidth: 1.3}),
    Plot.line(m52, {x:"date", y:"v", stroke:"#22229c", strokeWidth: 1.2}),
    Plot.line(spx, {x:"date", y:"v", stroke:"#000", strokeWidth: 1.9}),
    Plot.ruleX([lastBar], {x: d => new Date(d.date), y1:"low", y2:"high", stroke:"#f2e33a", strokeWidth: 3}),
    Plot.frame({stroke: FRAME}),
    Plot.axisY({anchor:"right", label: null, ticks: priceTicks, tickSize: 4, tickPadding: 2, stroke:"#888", tickFormat: d => String(d)}),
    Plot.axisX({anchor:"bottom", label: null, ticks: yearDates, tickFormat: d3.utcFormat("%Y"), tickSize: 3, tickPadding: 1, stroke:"#888"}),
    swatch("\u2590\u258C", 10, "#000", 9),
    legend("$SPX (Weekly) 3689.14", 10, "#111"),
    swatch("\u2501", 23, "#22229c"),
    legend("MA(52) 4411.12", 23, "#22229c", 16),
    swatch("\u2501", 35, "#dc1e3c"),
    legend("MA(208) 3475.81", 35, "#dc1e3c", 16)
  ]
}));

// ---------- bottom panel: breadth ----------
document.getElementById("p3").append(Plot.plot({
  ...base, height: 194, marginTop: 0, marginBottom: 16,
  x: {type:"utc", domain: xDomain, axis: null},
  y: {domain: [-4.6, 102], axis: null},
  marks: [
    markerRule({}),
    Plot.line(a50, {x:"date", y:"v", stroke:"#f26a10", strokeWidth: 1.5}),
    Plot.line(a200, {x:"date", y:"v", stroke:"#000", strokeWidth: 1.7}),
    Plot.rect(bottomZones, {x1: d => new Date(d[0]), x2: d => new Date(d[1]), y1: d => d[2], y2: d => d[3], fill: ZFILL, fillOpacity: 0.4, stroke: ZSTROKE, strokeWidth: 2}),
    Plot.frame({stroke: FRAME}),
    Plot.axisY({anchor:"right", label: null, ticks: breadthTicks, tickSize: 4, tickPadding: 2, stroke:"#888"}),
    Plot.axisY({anchor:"left", label: null, ticks: breadthTicks, tickSize: 0, tickPadding: 3, stroke:"#888"}),
    Plot.axisX({anchor:"bottom", label: null, ticks: yearDates, tickFormat: d3.utcFormat("%Y"), tickSize: 3, tickPadding: 1, stroke:"#888"}),
    swatch("\u2501", 9, "#f26a10"),
    legend("$SPXA50R 2.60", 9, "#111", 16),
    swatch("\u2501", 22, "#000"),
    legend("$SPXA200R 12.40", 22, "#111", 16)
  ]
}));
</script>
</body></html>
